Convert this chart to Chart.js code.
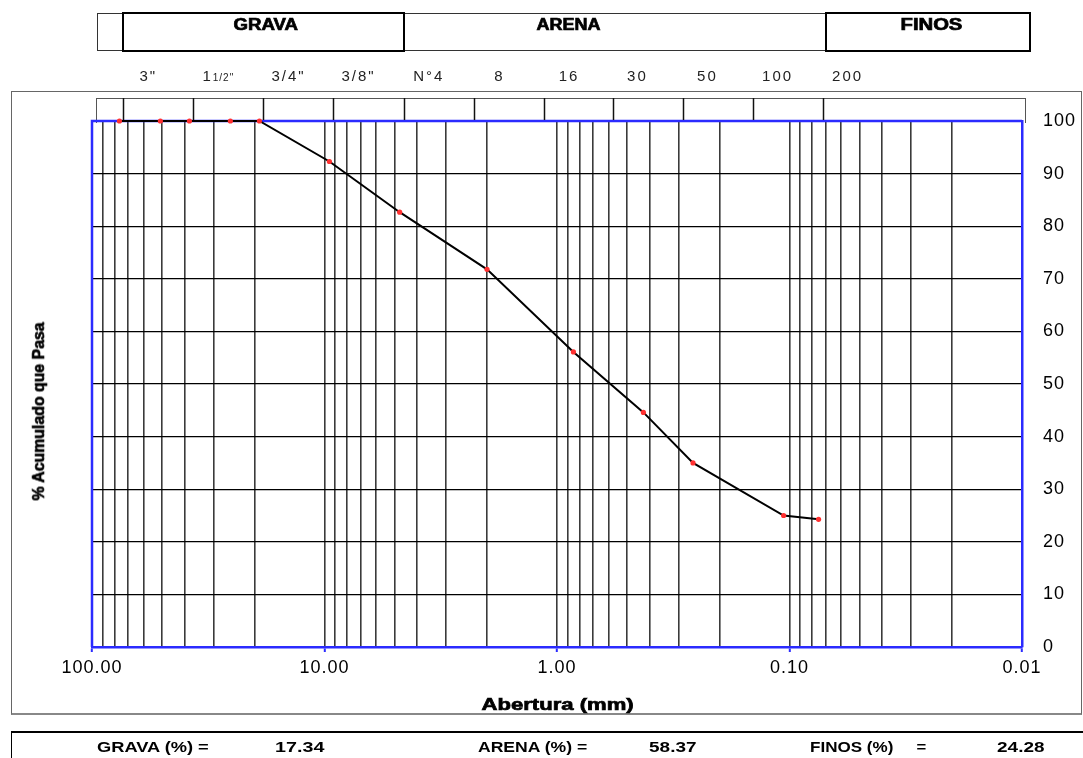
<!DOCTYPE html>
<html><head><meta charset="utf-8">
<script src="https://cdn.jsdelivr.net/npm/chart.js@4.4.0/dist/chart.umd.min.js"></script>
<style>
html,body{margin:0;padding:0;background:#fff;}
#wrap{position:relative;width:1083px;height:758px;overflow:hidden;font-family:"Liberation Sans",Arial,sans-serif;color:#000;}
#c{position:absolute;left:0;top:0;}
.box{position:absolute;box-sizing:border-box;}
.t{position:absolute;white-space:nowrap;transform-origin:center center;line-height:1;}
.b{font-weight:bold;}
.heavy{-webkit-text-stroke:0.7px #000;}
.sv{position:absolute;white-space:nowrap;font-size:15px;letter-spacing:2px;color:#222;line-height:1;}
.sv small{font-size:10px;letter-spacing:1px;}
</style></head><body>
<div id="wrap">
  <div class="box" style="left:11px;top:91px;width:1071px;height:624px;border:1px solid #666;border-bottom:2px solid #888;"></div>
  <div class="box" style="left:97px;top:13px;width:933px;height:38px;border:1px solid #333;"></div>
  <div class="box" style="left:122px;top:12px;width:283px;height:40px;border:2px solid #000;"></div>
  <div class="box" style="left:825px;top:12px;width:206px;height:40px;border:2px solid #000;"></div>
  <div class="box" style="left:96px;top:98px;width:930px;height:25px;border:1px solid #555;border-bottom:none;"></div>
  <div class="box" style="left:11px;top:731px;width:1080px;height:40px;border-top:2px solid #000;border-left:1px solid #000;"></div>
  <canvas id="c" width="1083" height="758"></canvas>
  <div class="t b heavy fit" data-cx="265" data-cy="25" data-w="64" style="font-size:16px">GRAVA</div>
  <div class="t b heavy fit" data-cx="568" data-cy="25" data-w="64" style="font-size:16px">ARENA</div>
  <div class="t b heavy fit" data-cx="931" data-cy="25" data-w="62" style="font-size:16px">FINOS</div>
  <div class="t b heavy fit" data-cx="557" data-cy="704" data-w="152" style="font-size:17px">Abertura (mm)</div>
  <div class="t b heavy fit" data-cx="38" data-cy="411" data-w="178" data-rot="1" style="font-size:17px">% Acumulado que Pasa</div>
  <div id="summary"></div>
  <div id="sieves"></div>
</div>
<script>
// ---- data ----
const sieveSizes = [76.2, 38.1, 19.05, 9.525, 4.75, 2.36, 1.18, 0.6, 0.3, 0.15, 0.075];
const sieveNames = ['3"', '1<small>1/2"</small>', '3/4"', '3/8"', 'N°4', '8', '16', '30', '50', '100', '200'];
const apertures = [76.2, 50.8, 38.1, 25.4, 19.05, 9.525, 4.75, 2.0, 0.85, 0.425, 0.26, 0.106, 0.075];
const passing = [100, 100, 100, 100, 100, 92.3, 82.66, 71.8, 56.1, 44.6, 35.0, 25.0, 24.28];
const xGridValues = [0.01,0.02,0.03,0.04,0.05,0.06,0.07,0.08,0.09,
  0.1,0.2,0.3,0.4,0.5,0.6,0.7,0.8,0.9,
  1,2,3,4,5,6,7,8,9,
  10,20,30,40,50,60,70,80,90,100];
const xLabelValues = [100, 10, 1, 0.1, 0.01];
const xTickLabels = ['100.00', '10.00', '1.00', '0.10', '0.01'];
const yTicks = [0,10,20,30,40,50,60,70,80,90,100];
const summaryLabels = ['GRAVA (%) =', 'ARENA (%) =', 'FINOS (%)'];
const summaryValues = ['17.34', '58.37', '24.28'];

// ---- layout of summary texts ----
const summaryPos = [
  {lc:153, lw:112, vc:300, vw:50},
  {lc:532, lw:109, vc:673, vw:48},
  {lc:851, lw:83, vc:1021, vw:48}
];
const sumDiv = document.getElementById('summary');
summaryLabels.forEach((lab, i) => {
  const p = summaryPos[i];
  sumDiv.insertAdjacentHTML('beforeend',
    `<div class="t b fit" data-cx="${p.lc}" data-cy="746" data-w="${p.lw}" style="font-size:15px">${lab}</div>` +
    `<div class="t b fit" data-cx="${p.vc}" data-cy="746" data-w="${p.vw}" style="font-size:15px">${summaryValues[i]}</div>`);
});
sumDiv.insertAdjacentHTML('beforeend',
  `<div class="t b fit" data-cx="921" data-cy="746" data-w="10" style="font-size:15px">=</div>`);

document.querySelectorAll('.fit').forEach(el => {
  const w = el.offsetWidth, h = el.offsetHeight;
  const s = (+el.dataset.w) / w;
  el.style.left = (el.dataset.cx - w / 2) + 'px';
  el.style.top = (el.dataset.cy - h / 2) + 'px';
  el.style.transform = el.dataset.rot ? `rotate(-90deg) scaleX(${s})` : `scaleX(${s})`;
});

const BLUE = '#2b2bff';
const isDecade = v => xLabelValues.some(d => Math.abs(d - v) < d * 1e-6);

const framePlugin = {
  id: 'frame',
  beforeDraw(chart) { chart.ctx.letterSpacing = '1px'; },
  beforeDatasetsDraw(chart) {
    const {ctx, chartArea: a} = chart;
    ctx.save();
    ctx.strokeStyle = BLUE;
    ctx.lineWidth = 2.5;
    ctx.beginPath();
    ctx.moveTo(a.left, a.bottom);
    ctx.lineTo(a.left, a.top);
    ctx.lineTo(a.right, a.top);
    ctx.stroke();
    ctx.restore();
  },
  afterDraw(chart) {
    const {ctx, chartArea: a} = chart;
    const xs = chart.scales.x;
    ctx.save();
    ctx.strokeStyle = '#111';
    ctx.lineWidth = 1.5;
    sieveSizes.forEach(s => {
      const px = Math.round(xs.getPixelForValue(s)) + 4.5;
      ctx.beginPath();
      ctx.moveTo(px, a.top - 23);
      ctx.lineTo(px, a.top - 1);
      ctx.stroke();
    });
    ctx.restore();
  }
};

const chart = new Chart(document.getElementById('c'), {
  type: 'line',
  data: {
    datasets: [{
      data: apertures.map((a, i) => ({x: a, y: passing[i]})),
      borderColor: '#000',
      borderWidth: 2,
      pointRadius: 2.6,
      pointBackgroundColor: '#ff3030',
      pointBorderWidth: 0,
      tension: 0,
      clip: false
    }]
  },
  options: {
    responsive: false,
    animation: false,
    devicePixelRatio: 1,
    layout: {padding: {left: 92, top: 121, right: 0, bottom: 0}},
    plugins: {legend: {display: false}, tooltip: {enabled: false}},
    scales: {
      x: {
        type: 'logarithmic',
        reverse: true,
        min: 0.01, max: 100,
        position: 'bottom',
        afterBuildTicks: s => { s.ticks = xGridValues.map(v => ({value: v})); },
        afterFit: s => { s.height = 111; },
        ticks: {
          autoSkip: false, maxRotation: 0, minRotation: 0, padding: 5,
          color: '#000', font: {family: '"Liberation Sans", Arial, sans-serif', size: 18},
          callback: v => { const i = xLabelValues.findIndex(d => Math.abs(d - v) < d * 1e-6); return i >= 0 ? xTickLabels[i] : ''; }
        },
        grid: {
          color: '#3a3a3a', lineWidth: 1.6, drawTicks: true, tickLength: 5, tickWidth: 2,
          tickColor: ctx => (ctx.tick && isDecade(ctx.tick.value)) ? BLUE : 'rgba(0,0,0,0)'
        },
        border: {color: BLUE, width: 2.5}
      },
      y: {
        position: 'right',
        min: 0, max: 100,
        afterBuildTicks: s => { s.ticks = yTicks.map(v => ({value: v})); },
        afterFit: s => { s.width = 61; },
        ticks: {padding: 21, color: '#000', font: {family: '"Liberation Sans", Arial, sans-serif', size: 18}},
        grid: {color: '#000', lineWidth: 1.2, drawTicks: false},
        border: {color: BLUE, width: 2.5}
      }
    }
  },
  plugins: [framePlugin]
});

// sieve labels above the sieve box, positioned through the x scale
const svDiv = document.getElementById('sieves');
sieveSizes.forEach((s, i) => {
  const el = document.createElement('div');
  el.className = 'sv';
  el.innerHTML = sieveNames[i];
  svDiv.appendChild(el);
  const cx = chart.scales.x.getPixelForValue(s) + 28;
  el.style.left = (cx - el.offsetWidth / 2 + 1) + 'px';
  el.style.top = (75 - el.offsetHeight / 2) + 'px';
});
</script>
</body></html>
